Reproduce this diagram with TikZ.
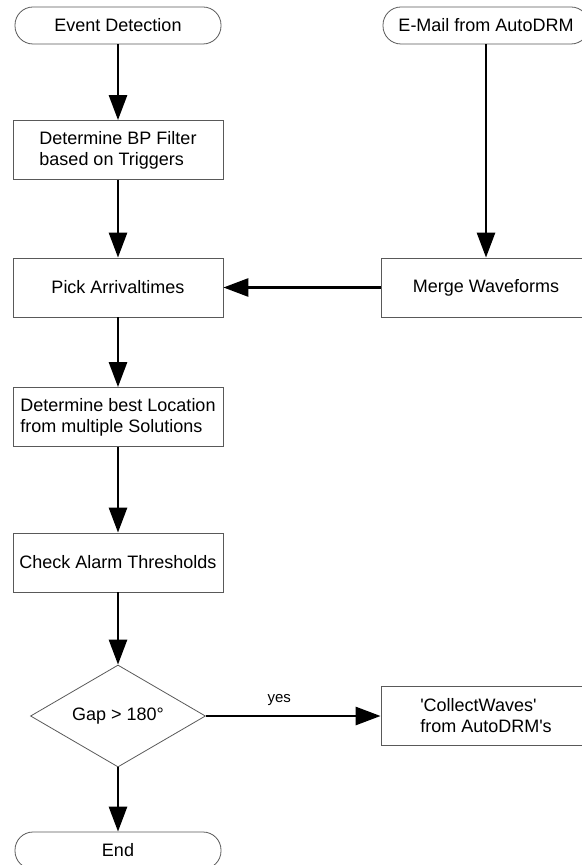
\documentclass[tikz,border=0pt]{standalone}
\usepackage{fontspec}
\setmainfont{Liberation Sans}
\usetikzlibrary{positioning,shapes.geometric,arrows.meta}

\begin{document}
\begin{tikzpicture}[x=0.5pt,y=-0.5pt,
  font=\fontsize{9}{10.5}\selectfont,
  box/.style={draw=black!65,line width=0.4pt,minimum width=105pt,minimum height=29.5pt,inner sep=0pt,align=left},
  pill/.style={draw=black!65,line width=0.4pt,rounded corners=9pt,minimum width=103pt,minimum height=18.5pt,inner sep=0pt},
  test/.style={draw=black!65,line width=0.4pt,shape=diamond,aspect=1.7,minimum width=87.5pt,minimum height=51pt,inner sep=0pt},
  flow/.style={line width=1.4pt,-{Triangle[length=12.5pt,width=9pt]}}]

  \useasboundingbox (0,0) rectangle (582,865);

  \path
  (118,25.5) node[pill] (detect) {Event Detection}
  (486,25.5) node[pill] (mail) {E-Mail from AutoDRM}
  (118,150) node[box] (filter) {Determine BP Filter\\based on Triggers}
  (118,287.5) node[box] (pick) {Pick Arrivaltimes}
  (486,287.5) node[box] (merge) {Merge Waveforms}
  (118,417) node[box] (locate) {Determine best Location\\from multiple Solutions}
  (118,562.5) node[box] (alarm) {Check Alarm Thresholds}
  (118,716) node[test] (gap) {Gap > 180°}
  (486,716) node[box] (collect) {\textquotesingle CollectWaves\textquotesingle\\from AutoDRM\textquotesingle s}
  (118,850.5) node[pill] (end) {End};

  \draw[flow] (detect) -- (filter);
  \draw[flow] (filter) -- (pick);
  \draw[flow] (pick) -- (locate);
  \draw[flow] (locate) -- (alarm);
  \draw[flow] (alarm) -- (gap);
  \draw[flow] (gap) -- (end);
  \draw[flow] (mail) -- (merge);
  \draw[flow] (merge) -- (pick);
  \draw[flow] (gap) -- node[above=1pt,pos=0.42,font=\fontsize{7.5}{8}\selectfont] (yes) {yes} (collect);
\end{tikzpicture}
\end{document}
